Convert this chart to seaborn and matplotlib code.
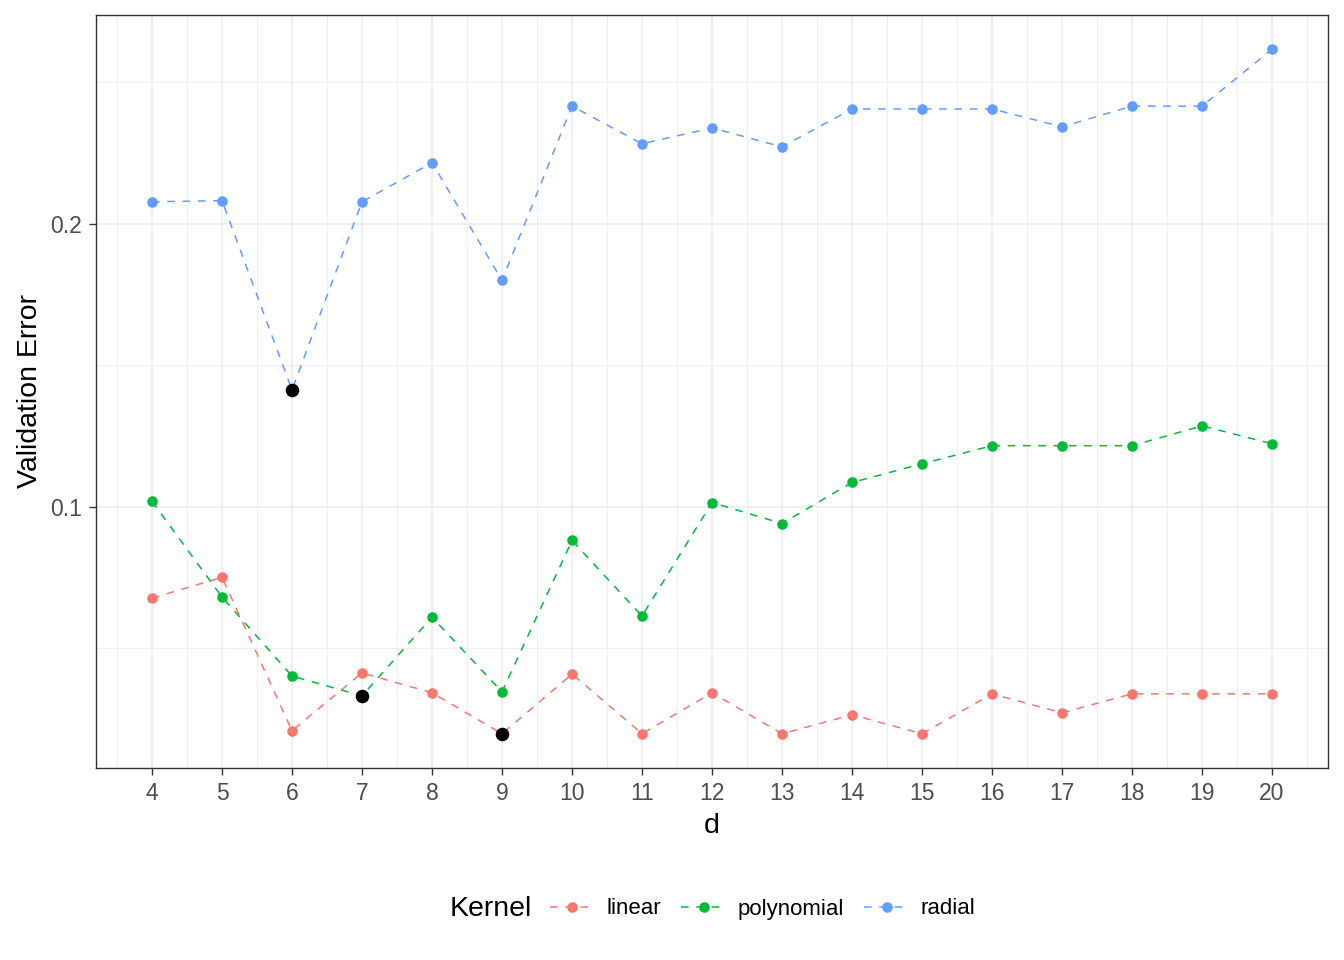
import numpy as np
import pandas as pd
import matplotlib
matplotlib.use("Agg")
import matplotlib.pyplot as plt
import seaborn as sns

# validation error per kernel for each d
d_values = list(range(4, 21))
linear_err = [0.0676, 0.0750, 0.0208, 0.0412, 0.0342, 0.0197, 0.0408, 0.0197, 0.0342,
              0.0197, 0.0264, 0.0197, 0.0338, 0.0271, 0.0338, 0.0338, 0.0338]
poly_err = [0.1018, 0.0680, 0.0401, 0.0331, 0.0609, 0.0345, 0.0880, 0.0613, 0.1014,
            0.0940, 0.1085, 0.1151, 0.1215, 0.1215, 0.1215, 0.1285, 0.1222]
radial_err = [0.2077, 0.2081, 0.1412, 0.2077, 0.2215, 0.1799, 0.2415, 0.2282, 0.2338,
              0.2271, 0.2405, 0.2405, 0.2405, 0.2342, 0.2415, 0.2415, 0.2616]
kernels = ["linear", "polynomial", "radial"]
kernel_colors = ["#F8766D", "#00BA38", "#619CFF"]

# best d per kernel (highlighted in black)
best_d = [9, 7, 6]
best_err = [0.0197, 0.0331, 0.1412]

df = pd.DataFrame({
    "d": d_values * 3,
    "err": linear_err + poly_err + radial_err,
    "Kernel": ["linear"] * 17 + ["polynomial"] * 17 + ["radial"] * 17,
})
best = pd.DataFrame({"d": best_d, "err": best_err})

sns.set_style("white")
plt.rcParams["font.family"] = ["Liberation Sans", "DejaVu Sans"]
plt.rcParams["text.color"] = "black"
plt.rcParams["axes.labelcolor"] = "black"

fig = plt.figure(figsize=(13.44, 9.6), dpi=100)
ax = fig.add_axes([96 / 1344, 1 - 768 / 960, (1328 - 96) / 1344, (768 - 15) / 960])

sns.lineplot(data=df, x="d", y="err", hue="Kernel", hue_order=kernels,
             palette=kernel_colors, marker="o", markersize=7.6, markeredgewidth=0,
             linestyle=(0, (5, 5)), linewidth=1.1, ax=ax)
sns.scatterplot(data=best, x="d", y="err", color="black", s=95, linewidth=0,
                ax=ax, zorder=5, legend=False)

ax.set_xlim(3.2, 20.8)
ax.set_ylim(0.0076, 0.2737)
ax.set_xticks(d_values)
ax.set_xticks(np.arange(3.5, 21, 1.0), minor=True)
ax.set_yticks([0.1, 0.2])
ax.set_yticks([0.05, 0.15, 0.25], minor=True)
ax.set_yticklabels(["0.1", "0.2"])
ax.grid(True, which="major", color="#EBEBEB", linewidth=1.1)
ax.grid(True, which="minor", color="#EBEBEB", linewidth=0.55)
ax.set_axisbelow(True)
for s in ax.spines.values():
    s.set_color("#333333")
    s.set_linewidth(1.0)
ax.tick_params(axis="both", which="major", length=5, width=1.0, color="#333333",
               labelsize=16.5, labelcolor="#4D4D4D", pad=5, bottom=True, left=True)
ax.tick_params(axis="both", which="minor", length=0)
ax.set_xlabel("d", fontsize=20.5, labelpad=6)
ax.set_ylabel("Validation Error", fontsize=20.5, labelpad=5)

handles, labels = ax.get_legend_handles_labels()
ax.get_legend().remove()
fig.text(450 / 1344, 1 - 909 / 960, "Kernel", fontsize=20.5, ha="left", va="center")
fig.legend(handles, labels, loc="center left", bbox_to_anchor=(550 / 1344, 1 - 909 / 960),
           ncol=3, frameon=False, fontsize=16, handlelength=2.0, handletextpad=0.55,
           columnspacing=0.9, borderaxespad=0, borderpad=0)

fig.savefig("out.png", dpi=100)
